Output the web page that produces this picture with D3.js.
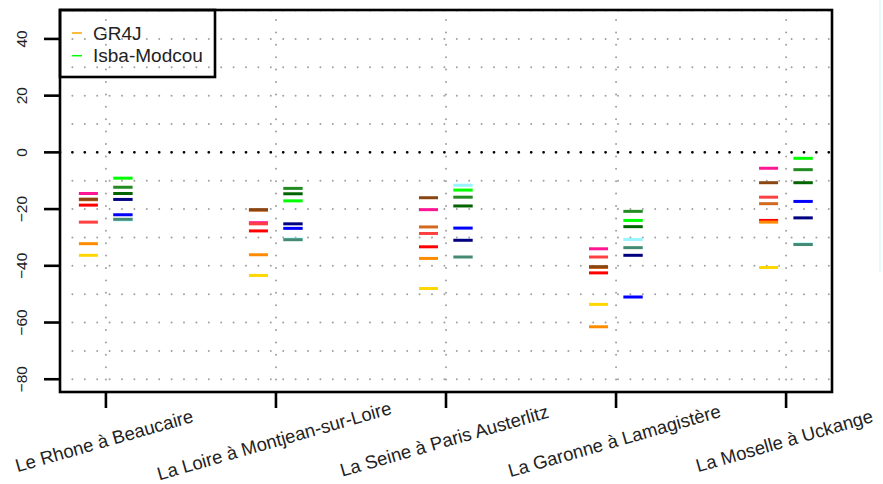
<!DOCTYPE html>
<html><head><meta charset="utf-8">
<script src="https://cdn.jsdelivr.net/npm/d3@7"></script>
<style>
html,body{margin:0;padding:0;background:#fff;}
svg{display:block;font-family:"Liberation Sans",Arial,sans-serif;}
</style></head>
<body>
<svg id="c" width="883" height="484"></svg>
<script>
// ---- data ----
const stations = ["Le Rhone à Beaucaire","La Loire à Montjean-sur-Loire","La Seine à Paris Austerlitz","La Garonne à Lamagistère","La Moselle à Uckange"];
const yTicks = [-80,-60,-40,-20,0,20,40];
const gridValues = [-80,-70,-60,-50,-40,-30,-20,-10,10,20,30,40,50];
const legendLabels = ["GR4J","Isba-Modcou"];
const legendColors = ["#FFA500","#00FF00"];

// GR4J members (one value per station)
const gr4jColors = ["#D2691E","#8B4513","#FF1493","#FF4040","#FF0000","#FF8C00","#FFD700"];
const gr4jChocolate = [-16.7,-20.4,-26.3,-40.6,-18.1];
const gr4jBrown     = [-16.5,-20.2,-16.0,-40.3,-10.7];
const gr4jPink      = [-14.5,-24.8,-20.2,-34.0,-5.6];
const gr4jTomato    = [-24.6,-25.2,-28.6,-36.9,-15.8];
const gr4jRed       = [-18.6,-27.7,-33.3,-42.5,-24.0];
const gr4jOrange    = [-32.2,-36.1,-37.4,-61.5,-24.6];
const gr4jGold      = [-36.3,-43.4,-48.0,-53.6,-40.6];

// Isba-Modcou members
const isbaColors = ["#98F5FF","#458B74","#00FF00","#228B22","#006400","#000080","#0000FF"];
const isbaCyan     = [-23.8,-30.6,-11.6,-30.7,-32.3];
const isbaSea      = [-23.6,-30.8,-36.9,-33.6,-32.5];
const isbaLime     = [-9.1,-17.1,-13.3,-24.0,-2.1];
const isbaForest   = [-12.3,-12.7,-15.8,-20.8,-6.1];
const isbaDark     = [-14.5,-14.6,-18.9,-26.2,-10.7];
const isbaNavy     = [-16.6,-25.2,-31.0,-36.3,-23.1];
const isbaBlue     = [-22.0,-26.8,-26.7,-51.0,-17.3];

const gr4jSeries = [gr4jChocolate,gr4jBrown,gr4jPink,gr4jTomato,gr4jRed,gr4jOrange,gr4jGold];
const isbaSeries = [isbaCyan,isbaSea,isbaLime,isbaForest,isbaDark,isbaNavy,isbaBlue];

// ---- layout ----
const L=60,R=832,T=10,B=392;
const svg=d3.select("#c");
const x=d3.scaleLinear().domain([0.73,5.27]).range([L,R]);
const y=d3.scaleLinear().domain([-84.5,50.2]).range([B,T]);

// faint artifact strip at right edge
svg.append("rect").attr("x",879).attr("y",0).attr("width",2).attr("height",272).attr("fill","#e6f8fb");

// grid
const g=svg.append("g");
g.selectAll("line.h").data(gridValues).join("line")
 .attr("x1",L).attr("x2",R).attr("y1",d=>y(d)).attr("y2",d=>y(d))
 .attr("stroke","#a0a0a0").attr("stroke-width",2).attr("stroke-linecap","round")
 .attr("stroke-dasharray","0,12.4");
g.selectAll("line.v").data(stations.map((s,i)=>i+1)).join("line")
 .attr("x1",d=>x(d)).attr("x2",d=>x(d)).attr("y1",B).attr("y2",T)
 .attr("stroke","#a0a0a0").attr("stroke-width",2).attr("stroke-linecap","round")
 .attr("stroke-dasharray","0,12.4");
g.append("line").attr("x1",L).attr("x2",R).attr("y1",y(0)).attr("y2",y(0))
 .attr("stroke","#000").attr("stroke-width",2.8).attr("stroke-linecap","round")
 .attr("stroke-dasharray","0,12.4");

// segments
function drawGroup(series,colors,o1,o2){
  series.forEach((vals,k)=>{
    svg.append("g").selectAll("line").data(vals).join("line")
     .attr("x1",(d,i)=>x(i+1+o1)).attr("x2",(d,i)=>x(i+1+o2))
     .attr("y1",d=>y(d)).attr("y2",d=>y(d))
     .attr("stroke",colors[k]).attr("stroke-width",3);
  });
}
drawGroup(gr4jSeries,gr4jColors,-0.159,-0.047);
drawGroup(isbaSeries,isbaColors,0.043,0.157);

// frame
svg.append("rect").attr("x",L).attr("y",T).attr("width",R-L).attr("height",B-T)
 .attr("fill","none").attr("stroke","#000").attr("stroke-width",2.6);

// y axis
const ya=svg.append("g");
ya.selectAll("line").data(yTicks).join("line")
 .attr("x1",44).attr("x2",L).attr("y1",d=>y(d)).attr("y2",d=>y(d))
 .attr("stroke","#000").attr("stroke-width",2.6);
ya.selectAll("text").data(yTicks).join("text")
 .attr("transform",d=>`translate(26.5,${y(d)}) rotate(-90)`)
 .attr("text-anchor","middle").attr("font-size",15.5).attr("fill","#222")
 .text(d=>d3.format("d")(d));

// x axis
const xa=svg.append("g");
xa.selectAll("line").data(stations).join("line")
 .attr("x1",(d,i)=>x(i+1)).attr("x2",(d,i)=>x(i+1)).attr("y1",B).attr("y2",408)
 .attr("stroke","#000").attr("stroke-width",2.6);
xa.selectAll("text").data(stations).join("text")
 .attr("transform",(d,i)=>`translate(${x(i+1)},447) rotate(-16)`)
 .attr("text-anchor","middle").attr("font-size",18.5).attr("fill","#222")
 .text(d=>d);

// legend
const lg=svg.append("g");
lg.append("rect").attr("x",L).attr("y",T).attr("width",155).attr("height",67)
 .attr("fill","none").attr("stroke","#000").attr("stroke-width",2.6);
legendLabels.forEach((lab,i)=>{
  const cy=33+i*22.7;
  lg.append("line").attr("x1",72).attr("x2",82).attr("y1",cy).attr("y2",cy)
   .attr("stroke",legendColors[i]).attr("stroke-width",1.5);
  lg.append("text").attr("x",93).attr("y",cy+6.5).attr("font-size",19).attr("fill","#222").text(lab);
});
</script>
</body></html>
